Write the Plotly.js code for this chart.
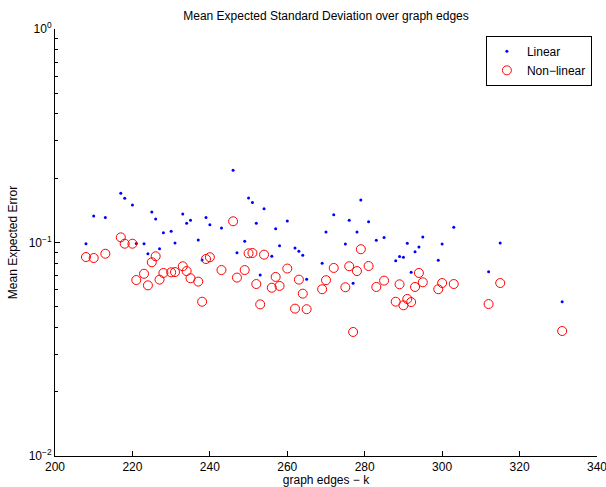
<!DOCTYPE html>
<html>
<head>
<meta charset="utf-8">
<script src="https://cdn.plot.ly/plotly-3.0.1.min.js"></script>
<style>html,body{margin:0;padding:0;background:#fff;}#chart{width:606px;height:487px;}</style>
</head>
<body>
<div id="chart"></div>
<script>
// graph edges k
var edges = [208,210,213,217,218,220,221,223,224,225,226,227,228,230,231,233,234,235,237,238,239,240,243,246,247,249,250,251,252,253,254,256,257,258,260,262,263,264,265,269,270,272,275,276,277,278,279,281,283,285,288,289,290,291,292,293,294,295,299,300,303,312,315,331];
// Mean expected error, linear
var linearErr = [0.0987,0.133,0.131,0.170,0.161,0.150,0.099,0.0987,0.0886,0.139,0.129,0.0935,0.111,0.113,0.0995,0.136,0.123,0.127,0.1027,0.0828,0.131,0.121,0.117,0.218,0.0896,0.1013,0.1616,0.154,0.123,0.0704,0.144,0.0862,0.116,0.0966,0.126,0.0943,0.091,0.0871,0.0672,0.080,0.112,0.135,0.0984,0.127,0.0644,0.112,0.158,0.125,0.1024,0.1054,0.0822,0.0859,0.0853,0.0992,0.0725,0.0906,0.0952,0.106,0.0825,0.0984,0.118,0.073,0.0995,0.0528];
// Mean expected error, non-linear
var nonlinearErr = [0.0855,0.0846,0.0886,0.1057,0.0987,0.0987,0.0667,0.0714,0.063,0.0808,0.0862,0.067,0.072,0.0725,0.0727,0.0774,0.0735,0.068,0.0656,0.0528,0.0837,0.0853,0.0743,0.1257,0.0685,0.0743,0.089,0.0893,0.0639,0.0513,0.0877,0.0614,0.069,0.0626,0.0755,0.049,0.067,0.0576,0.0487,0.0604,0.0666,0.076,0.0617,0.0774,0.0381,0.0735,0.093,0.0776,0.0619,0.0663,0.0528,0.0637,0.0508,0.0544,0.0526,0.0619,0.072,0.0651,0.0604,0.0646,0.0639,0.0515,0.0646,0.0385];
var seriesNames = ['Linear','Non\u2212linear'];
var yTickVals = [0.01,0.1,1];
var yTickText = ['10<sup>\u22122</sup>','10<sup>\u22121</sup>','10<sup>0</sup>'];
var xTickVals = [200,220,240,260,280,300,320,340];

var FONT = '"Liberation Sans", Arial, Helvetica, sans-serif';

var traces = [
  {x: edges, y: linearErr, name: seriesNames[0], type: 'scatter', mode: 'markers',
   marker: {symbol: 'circle', size: 3, color: '#0000ff'}},
  {x: edges, y: nonlinearErr, name: seriesNames[1], type: 'scatter', mode: 'markers',
   marker: {symbol: 'circle-open', size: 9, color: '#ff0000', line: {width: 1, color: '#ff0000'}}}
];

var layout = {
  width: 606, height: 487,
  margin: {l: 55, r: 9, t: 29, b: 31, pad: 0},
  paper_bgcolor: '#fff', plot_bgcolor: '#fff',
  font: {family: FONT, size: 12, color: '#000'},
  showlegend: true,
  title: {text: 'Mean Expected Standard Deviation over graph edges', font: {family: FONT, size: 12, color: '#000'},
          x: 0.538, xanchor: 'center', y: 0.967, yanchor: 'middle', yref: 'container'},
  xaxis: {range: [200, 340], tickmode: 'array', tickvals: xTickVals, ticks: 'inside', ticklen: 5, tickcolor: '#000',
          showline: true, linecolor: '#000', linewidth: 1, mirror: false, showgrid: false, zeroline: false,
          ticklabeloverflow: 'allow',
          tickfont: {family: FONT, size: 12, color: '#000'},
          title: {text: 'graph edges \u2212 k', font: {family: FONT, size: 12, color: '#000'}, standoff: 4}},
  yaxis: {type: 'log', range: [-2, 0], tickmode: 'array', tickvals: yTickVals, ticktext: yTickText,
          ticks: 'inside', ticklen: 5, tickcolor: '#000',
          minor: {dtick: 'D1', ticks: 'inside', ticklen: 3, tickcolor: '#000', showgrid: false},
          showline: true, linecolor: '#000', linewidth: 1, mirror: false, showgrid: false, zeroline: false,
          ticklabeloverflow: 'allow',
          tickfont: {family: FONT, size: 12, color: '#000'},
          title: {text: 'Mean Expected Error', font: {family: FONT, size: 12, color: '#000'}, standoff: 8}},
  legend: {x: 0.795, y: 0.984, xanchor: 'left', yanchor: 'top', bgcolor: '#fff', bordercolor: '#000', borderwidth: 1,
           font: {family: FONT, size: 12, color: '#000'}, tracegroupgap: 0}
};

Plotly.newPlot('chart', traces, layout, {displayModeBar: false, staticPlot: true});
</script>
</body>
</html>
